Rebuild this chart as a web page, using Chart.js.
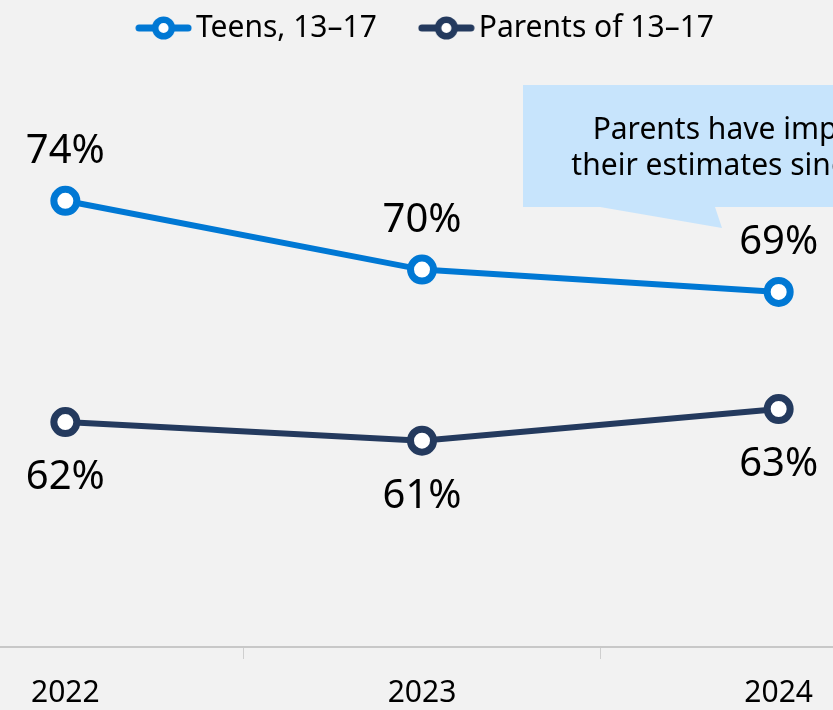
<!DOCTYPE html>
<html>
<head>
<meta charset="utf-8">
<script src="https://cdn.jsdelivr.net/npm/chart.js@4.4.1/dist/chart.umd.min.js"></script>
<style>
    html, body { margin: 0; padding: 0; background: #f2f2f2; overflow: hidden; width: 833px; height: 710px; }
    /* 図は左右が切れているので、キャンバスを広めに取って左へずらす */
    #wrap { position: absolute; left: -113px; top: 0; width: 1070px; height: 710px; }
</style>
</head>
<body>
<div id="wrap"><canvas id="chart"></canvas></div>
<script>
// データ
const years = ['2022', '2023', '2024'];
const seriesNames = ['Teens, 13–17', 'Parents of 13–17'];
const teens = [74, 70.3, 69.1];
const parents = [62.1, 61.1, 62.8];
const teensLabels = ['74%', '70%', '69%'];
const parentsLabels = ['62%', '61%', '63%'];
const calloutLines = ['Parents have improved', 'their estimates since 2022'];

const FONT = '"Segoe UI", "Noto Sans", sans-serif';
const BLUE = '#0078d4';
const NAVY = '#243a5e';

// 凡例用のマーカー（線＋丸）
function makeMarker(color) {
    const c = document.createElement('canvas');
    c.width = 57;
    c.height = 26;
    const g = c.getContext('2d');
    g.strokeStyle = color;
    g.lineCap = 'round';
    g.lineWidth = 7;
    g.beginPath();
    g.moveTo(4, 13);
    g.lineTo(53, 13);
    g.stroke();
    g.beginPath();
    g.arc(28.5, 13, 8.3, 0, Math.PI * 2);
    g.fillStyle = '#ffffff';
    g.fill();
    g.lineWidth = 6.5;
    g.stroke();
    return c;
}
const legendMarks = [makeMarker(BLUE), makeMarker(NAVY)];

// 凡例を少し右へ
const legendShiftPlugin = {
    id: 'legendShift',
    afterLayout(chart) {
        chart.legend.left += 8;
        chart.legend.right += 8;
    }
};

// 値ラベル
const valueLabelPlugin = {
    id: 'valueLabels',
    afterDatasetsDraw(chart) {
        const ctx = chart.ctx;
        ctx.save();
        ctx.font = '40px ' + FONT;
        ctx.fillStyle = '#000000';
        ctx.textAlign = 'center';
        ctx.textBaseline = 'middle';
        chart.data.datasets.forEach((ds, i) => {
            const meta = chart.getDatasetMeta(i);
            meta.data.forEach((pt, j) => {
                const dy = ds.labelAbove ? -49 : 56;
                ctx.fillText(ds.valueLabels[j], pt.x, pt.y + dy);
            });
        });
        ctx.restore();
    }
};

// 吹き出し
const calloutPlugin = {
    id: 'callout',
    afterDraw(chart) {
        const ctx = chart.ctx;
        ctx.save();
        ctx.fillStyle = '#c7e4fc';
        ctx.beginPath();
        ctx.moveTo(636, 85);
        ctx.lineTo(1070, 85);
        ctx.lineTo(1070, 207);
        ctx.lineTo(828, 207);
        ctx.lineTo(835, 228);
        ctx.lineTo(713, 207);
        ctx.lineTo(636, 207);
        ctx.closePath();
        ctx.fill();
        ctx.font = '30px ' + FONT;
        ctx.fillStyle = '#000000';
        ctx.textAlign = 'center';
        ctx.textBaseline = 'alphabetic';
        ctx.fillText(calloutLines[0], 868, 139);
        ctx.fillText(calloutLines[1], 868, 175);
        ctx.restore();
    }
};

const chart = new Chart(document.getElementById('chart'), {
    type: 'line',
    data: {
        labels: years,
        datasets: [
            {
                label: seriesNames[0],
                data: teens,
                valueLabels: teensLabels,
                labelAbove: true,
                borderColor: BLUE,
                backgroundColor: '#ffffff',
                borderWidth: 6,
                pointRadius: 11.5,
                pointBorderWidth: 7,
                pointBackgroundColor: '#ffffff',
                pointBorderColor: BLUE,
                tension: 0,
                clip: false
            },
            {
                label: seriesNames[1],
                data: parents,
                valueLabels: parentsLabels,
                labelAbove: false,
                borderColor: NAVY,
                backgroundColor: '#ffffff',
                borderWidth: 6,
                pointRadius: 11.5,
                pointBorderWidth: 7,
                pointBackgroundColor: '#ffffff',
                pointBorderColor: NAVY,
                tension: 0,
                clip: false
            }
        ]
    },
    options: {
        responsive: true,
        maintainAspectRatio: false,
        animation: false,
        layout: { autoPadding: false, padding: { top: -39, left: 0, right: 0, bottom: -17 } },
        plugins: {
            legend: {
                position: 'top',
                align: 'center',
                labels: {
                    usePointStyle: true,
                    pointStyleWidth: 35,
                    boxHeight: 30,
                    padding: 52,
                    color: '#000000',
                    font: { size: 30, family: FONT },
                    generateLabels(chart) {
                        const items = Chart.defaults.plugins.legend.labels.generateLabels(chart);
                        items.forEach((it, i) => { it.pointStyle = legendMarks[i]; });
                        return items;
                    }
                }
            },
            tooltip: { enabled: false }
        },
        scales: {
            x: {
                offset: true,
                grid: {
                    offset: true,
                    drawOnChartArea: false,
                    drawTicks: true,
                    tickLength: 12,
                    color: '#cfcfcf',
                    lineWidth: 1
                },
                border: { display: true, color: '#c8c8c8', width: 2 },
                ticks: {
                    color: '#000000',
                    padding: 16,
                    font: { size: 30, family: FONT }
                }
            },
            y: {
                display: false,
                min: 50,
                max: 81.95
            }
        }
    },
    plugins: [legendShiftPlugin, valueLabelPlugin, calloutPlugin]
});
</script>
</body>
</html>
